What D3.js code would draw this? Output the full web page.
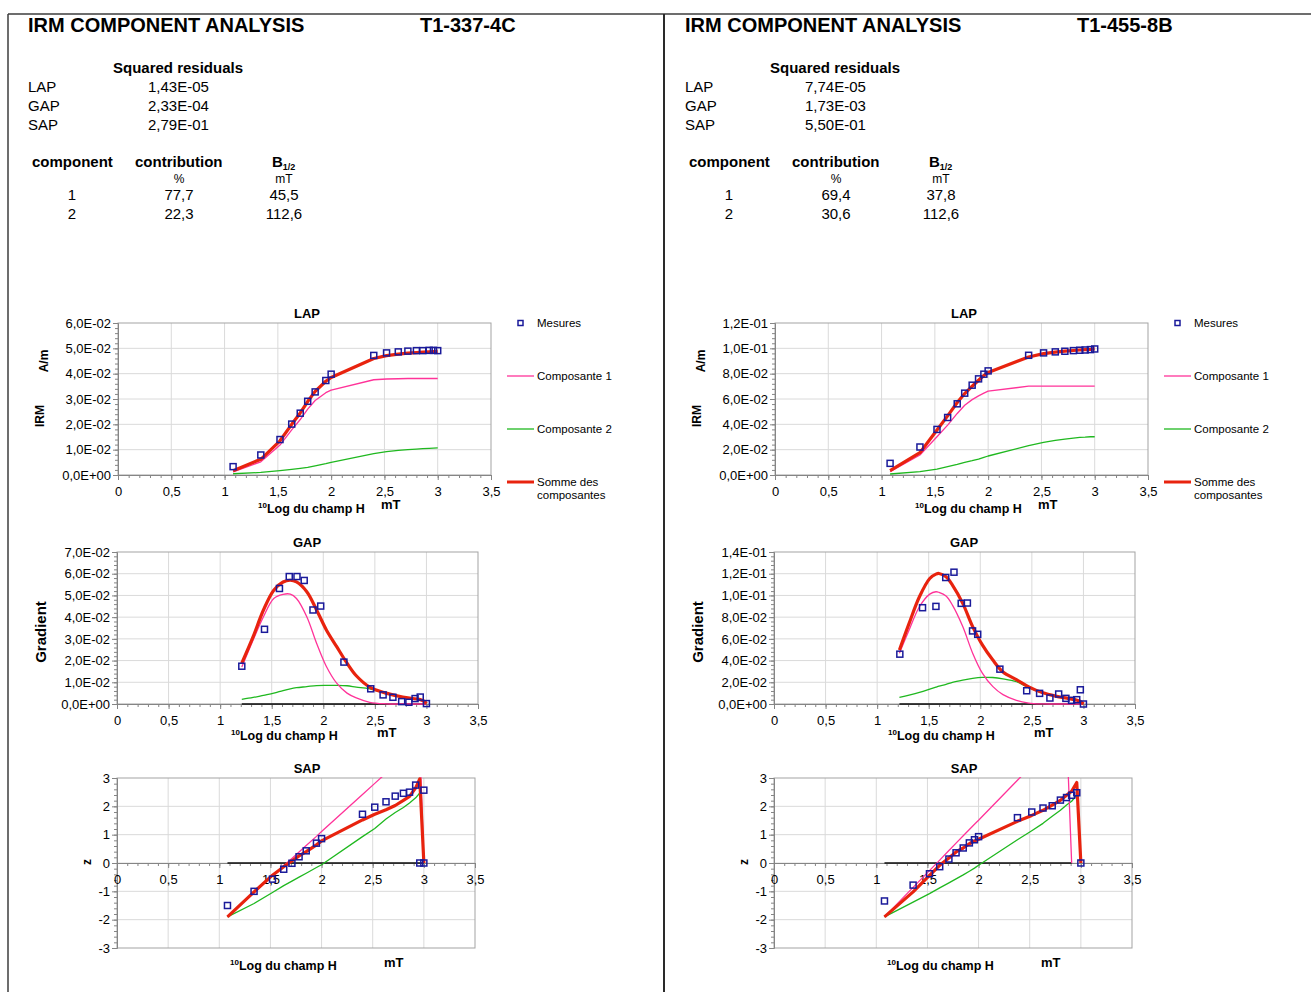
<!DOCTYPE html>
<html><head><meta charset="utf-8">
<script src="https://cdn.jsdelivr.net/npm/d3@7/dist/d3.min.js"></script>
<style>
html,body{margin:0;padding:0;background:#fff;}
svg{display:block;}
</style></head><body>
<svg id="chart" width="1311" height="992"></svg>
<script>
// ================= DATA =================
const sampleIds = ["T1-337-4C", "T1-455-8B"];
const residualLabels = ["LAP", "GAP", "SAP"];
const residualsA = ["1,43E-05", "2,33E-04", "2,79E-01"];
const residualsB = ["7,74E-05", "1,73E-03", "5,50E-01"];
const componentIds = ["1", "2"];
const contribA = ["77,7", "22,3"];
const b12A = ["45,5", "112,6"];
const contribB = ["69,4", "30,6"];
const b12B = ["37,8", "112,6"];

const xTicks = [0, 0.5, 1, 1.5, 2, 2.5, 3, 3.5];
const lapTicksA = [0, 1, 2, 3, 4, 5, 6];          // x 1E-02 A/m
const lapTicksB = [0, 2, 4, 6, 8, 10, 12];        // x 1E-02 A/m
const gapTicksA = [0, 1, 2, 3, 4, 5, 6, 7];       // x 1E-02
const gapTicksB = [0, 2, 4, 6, 8, 10, 12, 14];    // x 1E-02
const sapTicks = [-3, -2, -1, 0, 1, 2, 3];

const legendLabels = ["Mesures", "Composante 1", "Composante 2", "Somme des", "composantes"];

// ---- sample A (T1-337-4C) ----
const logHA = [1.08, 1.34, 1.52, 1.63, 1.71, 1.78, 1.85, 1.95, 2.00, 2.40, 2.52, 2.63, 2.72, 2.80, 2.86, 2.92, 2.96, 3.00];
const lapMesA = [0.33, 0.79, 1.40, 2.01, 2.44, 2.91, 3.28, 3.73, 3.98, 4.72, 4.82, 4.86, 4.89, 4.91, 4.91, 4.92, 4.92, 4.91];
const lapC1A  = [0.12, 0.52, 1.18, 1.78, 2.19, 2.60, 2.94, 3.25, 3.35, 3.76, 3.79, 3.80, 3.81, 3.81, 3.81, 3.81, 3.81, 3.81];
const lapC2A  = [0.05, 0.10, 0.17, 0.22, 0.26, 0.30, 0.36, 0.45, 0.50, 0.84, 0.92, 0.97, 1.00, 1.02, 1.04, 1.05, 1.06, 1.07];
const lapSumA = [0.17, 0.62, 1.35, 2.00, 2.45, 2.90, 3.30, 3.70, 3.85, 4.60, 4.71, 4.77, 4.81, 4.83, 4.85, 4.86, 4.87, 4.88];

const gapXA   = [1.21, 1.43, 1.575, 1.67, 1.745, 1.815, 1.90, 1.975, 2.20, 2.46, 2.58, 2.675, 2.76, 2.83, 2.89, 2.94, 3.00];
const gapMesA = [1.74, 3.44, 5.32, 5.87, 5.87, 5.69, 4.33, 4.51, 1.93, 0.70, 0.42, 0.31, 0.11, 0.08, 0.25, 0.32, 0.02];
const gapCurveXA = [1.21, 1.32, 1.42, 1.52, 1.61, 1.68, 1.74, 1.84, 1.935, 2.03, 2.13, 2.23, 2.32, 2.45, 2.61, 2.77, 2.94, 2.98, 3.00];
const gapSumA = [1.88, 3.10, 4.33, 5.24, 5.62, 5.70, 5.62, 5.17, 4.33, 3.41, 2.64, 1.88, 1.30, 0.78, 0.50, 0.32, 0.20, 0.12, 0.02];
const gapC1A  = [1.70, 2.95, 4.02, 4.86, 5.05, 5.06, 4.86, 4.02, 2.80, 1.73, 0.96, 0.50, 0.28, 0.08, 0.01, 0.00, 0.00, 0.00, 0.00];
const gapC2A  = [0.21, 0.30, 0.40, 0.50, 0.62, 0.70, 0.75, 0.80, 0.85, 0.86, 0.86, 0.84, 0.78, 0.70, 0.48, 0.31, 0.19, 0.11, 0.02];
const gapZeroA = [1.21, 3.00];

const sapXA   = [1.08, 1.34, 1.52, 1.63, 1.71, 1.78, 1.85, 1.95, 2.00, 2.40, 2.52, 2.63, 2.72, 2.80, 2.86, 2.92, 2.96, 3.00, 3.00];
const sapMesA = [-1.50, -1.00, -0.57, -0.22, -0.01, 0.22, 0.43, 0.70, 0.86, 1.72, 1.97, 2.16, 2.36, 2.46, 2.50, 2.75, 0.00, 2.57, 0.00];
const sapSumA = [-1.90, -1.02, -0.43, -0.13, 0.07, 0.25, 0.40, 0.64, 0.78, 1.52, 1.72, 1.88, 2.03, 2.21, 2.35, 2.65, 2.97, 0.00];
const sapC1A  = [-1.90, -1.05, -0.46, -0.10, 0.16, 0.39, 0.62, 0.94, 1.11, 2.42, 2.81, 3.17, 3.46, 3.72, 3.92, 4.12, 4.25, 0.00];
const sapC2A  = [-1.90, -1.43, -1.04, -0.80, -0.64, -0.50, -0.36, -0.16, -0.06, 0.93, 1.22, 1.55, 1.78, 1.96, 2.12, 2.30, 2.47];
const sapZeroA = [1.08, 3.00];

// ---- sample B (T1-455-8B) ----
const logHB = [1.08, 1.36, 1.52, 1.62, 1.71, 1.78, 1.85, 1.91, 1.96, 2.00, 2.38, 2.52, 2.63, 2.72, 2.80, 2.86, 2.91, 2.96, 3.00];
const lapMesB = [0.92, 2.21, 3.60, 4.54, 5.62, 6.46, 7.09, 7.59, 7.96, 8.22, 9.45, 9.64, 9.72, 9.77, 9.82, 9.85, 9.87, 9.90, 9.95];
const lapC1B  = [0.26, 1.58, 3.02, 3.94, 4.86, 5.51, 5.95, 6.25, 6.46, 6.62, 7.01, 7.01, 7.01, 7.01, 7.01, 7.01, 7.01, 7.01, 7.01];
const lapC2B  = [0.08, 0.26, 0.47, 0.66, 0.84, 1.00, 1.13, 1.26, 1.39, 1.50, 2.31, 2.57, 2.73, 2.84, 2.91, 2.97, 2.99, 3.02, 3.02];
const lapSumB = [0.34, 1.76, 3.55, 4.67, 5.72, 6.43, 7.01, 7.48, 7.85, 8.09, 9.32, 9.58, 9.70, 9.78, 9.83, 9.87, 9.90, 9.92, 9.95];

const gapXB   = [1.22, 1.44, 1.57, 1.665, 1.745, 1.815, 1.875, 1.925, 1.975, 2.19, 2.45, 2.575, 2.675, 2.76, 2.83, 2.885, 2.935, 2.97, 3.00];
const gapMesB = [4.59, 8.87, 8.99, 11.65, 12.14, 9.27, 9.30, 6.73, 6.42, 3.21, 1.22, 0.98, 0.55, 0.92, 0.52, 0.34, 0.40, 1.31, 0.00];
const gapCurveXB = [1.216, 1.31, 1.41, 1.51, 1.57, 1.60, 1.668, 1.73, 1.83, 1.926, 2.02, 2.12, 2.22, 2.35, 2.47, 2.60, 2.73, 2.86, 2.94, 2.97, 3.00];
const gapSumB = [4.98, 7.43, 9.88, 11.56, 11.96, 12.02, 11.71, 10.95, 9.27, 7.13, 5.44, 4.07, 2.95, 2.25, 1.58, 1.05, 0.72, 0.50, 0.34, 0.24, 0.00];
const gapC1B  = [4.68, 6.82, 8.96, 10.12, 10.34, 10.28, 9.94, 9.11, 7.13, 4.68, 2.84, 1.62, 0.86, 0.34, 0.09, 0.01, 0.00, 0.00, 0.00, 0.00, 0.00];
const gapC2B  = [0.61, 0.82, 1.07, 1.37, 1.56, 1.65, 1.80, 1.99, 2.20, 2.36, 2.45, 2.44, 2.32, 2.05, 1.50, 1.02, 0.70, 0.48, 0.33, 0.23, 0.00];
const gapZeroB = [1.216, 3.00];

const sapXB   = [1.08, 1.36, 1.52, 1.62, 1.71, 1.78, 1.85, 1.91, 1.96, 2.00, 2.38, 2.52, 2.63, 2.72, 2.80, 2.86, 2.91, 2.96, 3.00];
const sapMesB = [-1.34, -0.78, -0.38, -0.13, 0.14, 0.36, 0.53, 0.71, 0.82, 0.93, 1.60, 1.80, 1.94, 2.02, 2.22, 2.31, 2.39, 2.48, 0.00];
const sapSumB = [-1.90, -1.02, -0.44, -0.08, 0.18, 0.39, 0.53, 0.68, 0.78, 0.84, 1.47, 1.68, 1.86, 2.04, 2.21, 2.39, 2.53, 2.84, 0.00];
const sapC1B  = [-1.90, -0.86, -0.27, 0.10, 0.44, 0.70, 0.96, 1.18, 1.37, 1.51, 2.92, 3.44, 3.85, 4.18, 4.48, 4.70, 0.00];
const sapC2B  = [-1.90, -1.38, -1.08, -0.88, -0.70, -0.56, -0.42, -0.29, -0.18, -0.08, 0.82, 1.14, 1.40, 1.65, 1.86, 2.05, 2.18, 2.40];
const sapZeroB = [1.08, 2.91];

// ================= DRAWING =================
const FONT = '"Liberation Sans", Arial, Helvetica, sans-serif';
const COL = { mes: "#1a1a9a", c1: "#ff3399", c2: "#1fb81f", sum: "#e8230e",
              grid: "#dadada", frame: "#a3a3a3", axis: "#858585", zero: "#111" };
const svg = d3.select("#chart").attr("font-family", FONT);

function sci(v) {
  if (Math.abs(v) < 1e-12) return "0,0E+00";
  const e = Math.floor(Math.log10(Math.abs(v)) + 1e-9);
  const m = v / Math.pow(10, e);
  return m.toFixed(1).replace(".", ",") + "E" + (e < 0 ? "-" : "+") + String(Math.abs(e)).padStart(2, "0");
}
const dec = v => String(v).replace(".", ",");

function txt(g, x, y, s, size, o = {}) {
  const t = g.append("text").attr("x", x).attr("y", y).attr("font-size", size).attr("fill", "#000").text(s);
  if (o.bold) t.attr("font-weight", "bold");
  if (o.anchor) t.attr("text-anchor", o.anchor);
  return t;
}

// page frame
svg.append("line").attr("x1", 8).attr("x2", 1311).attr("y1", 14).attr("y2", 14).attr("stroke", "#3c3c3c").attr("stroke-width", 1.5);
svg.append("line").attr("x1", 8).attr("x2", 8).attr("y1", 14).attr("y2", 992).attr("stroke", "#3c3c3c").attr("stroke-width", 1.5);
svg.append("line").attr("x1", 664).attr("x2", 664).attr("y1", 14).attr("y2", 992).attr("stroke", "#2a2a2a").attr("stroke-width", 2);

function header(dx, id, res, contrib, b12) {
  const g = svg.append("g").attr("transform", `translate(${dx},0)`);
  txt(g, 28, 32, "IRM COMPONENT ANALYSIS", 20, { bold: true });
  txt(g, 420, 32, id, 20, { bold: true });
  txt(g, 113, 73, "Squared residuals", 15, { bold: true });
  residualLabels.forEach((l, i) => {
    txt(g, 28, 92 + i * 19, l, 15);
    txt(g, 148, 92 + i * 19, res[i], 15);
  });
  txt(g, 32, 167, "component", 15, { bold: true });
  txt(g, 135, 167, "contribution", 15, { bold: true });
  const b = txt(g, 272, 167, "B", 15, { bold: true });
  b.append("tspan").attr("font-size", 9).attr("dy", 3).text("1/2");
  txt(g, 179, 183, "%", 12, { anchor: "middle" });
  txt(g, 284, 183, "mT", 12, { anchor: "middle" });
  componentIds.forEach((c, i) => {
    const yy = 200 + i * 19;
    txt(g, 72, yy, c, 15, { anchor: "middle" });
    txt(g, 179, yy, contrib[i], 15, { anchor: "middle" });
    txt(g, 284, yy, b12[i], 15, { anchor: "middle" });
  });
}

let clipN = 0;
function styleAxis(sel, size) {
  sel.attr("font-family", FONT).attr("font-size", size);
  sel.select(".domain").attr("stroke", COL.axis);
  sel.selectAll(".tick line").attr("stroke", COL.axis);
  sel.selectAll(".tick text").attr("fill", "#000");
}

function drawChart(dx, c) {
  const g = svg.append("g").attr("transform", `translate(${dx},0)`);
  const x = d3.scaleLinear().domain([0, 3.5]).range([c.left, c.right]);
  const y0 = c.yTicks[0], y1 = c.yTicks[c.yTicks.length - 1];
  const y = d3.scaleLinear().domain([y0, y1]).range([c.bottom, c.top]);
  const W = c.right - c.left, H = c.bottom - c.top;

  // gridlines
  g.append("g").selectAll("line").data(xTicks.slice(1, -1)).join("line")
    .attr("x1", d => x(d)).attr("x2", d => x(d)).attr("y1", c.top).attr("y2", c.bottom)
    .attr("stroke", COL.grid);
  g.append("g").selectAll("line").data(c.yTicks.slice(1, -1)).join("line")
    .attr("y1", d => y(d)).attr("y2", d => y(d)).attr("x1", c.left).attr("x2", c.right)
    .attr("stroke", COL.grid);
  g.append("rect").attr("x", c.left).attr("y", c.top).attr("width", W).attr("height", H)
    .attr("fill", "none").attr("stroke", COL.frame);

  // y axis
  const yStep = c.yTicks[1] - c.yTicks[0];
  const nMinor = Math.round((y1 - y0) / (yStep / 5));
  const yMinor = d3.range(nMinor + 1).map(i => y0 + i * yStep / 5);
  g.append("g").attr("transform", `translate(${c.left},0)`)
    .call(d3.axisLeft(y).tickValues(yMinor).tickSize(3).tickSizeOuter(0).tickFormat(""))
    .call(s => styleAxis(s, 13));
  g.append("g").attr("transform", `translate(${c.left},0)`)
    .call(d3.axisLeft(y).tickValues(c.yTicks).tickSize(5).tickSizeOuter(0).tickPadding(c.yPad).tickFormat(c.yFmt))
    .call(s => styleAxis(s, 13));

  // x axis
  const ax = c.zeroAxis ? y(0) : c.bottom;
  const xMinor = d3.range(36).map(i => i / 10);
  g.append("g").attr("transform", `translate(0,${ax})`)
    .call(d3.axisBottom(x).tickValues(xMinor).tickSize(3).tickSizeOuter(0).tickFormat(""))
    .call(s => styleAxis(s, 13));
  g.append("g").attr("transform", `translate(0,${ax})`)
    .call(d3.axisBottom(x).tickValues(xTicks).tickSize(5).tickSizeOuter(0).tickPadding(7).tickFormat(dec))
    .call(s => styleAxis(s, 13));

  // title
  txt(g, 307, c.top - 5, c.title, 13, { bold: true, anchor: "middle" });

  // y labels (rotated)
  c.yLabels.forEach(l => {
    g.append("text").attr("transform", `translate(${l.x + l.size * 0.35},${l.y}) rotate(-90)`)
      .attr("text-anchor", "middle").attr("font-size", l.size).attr("font-weight", "bold").text(l.t);
  });

  // x label
  const xl = g.append("text").attr("x", c.xl[0]).attr("y", c.xl[1]).attr("font-weight", "bold").attr("font-size", 12.5);
  xl.append("tspan").attr("font-size", 8).attr("dy", -5).text("10");
  xl.append("tspan").attr("dy", 5).text("Log du champ H");
  txt(g, c.mt[0], c.mt[1], "mT", 13, { bold: true });

  // series
  const cid = "clip" + (clipN++);
  g.append("clipPath").attr("id", cid).append("rect")
    .attr("x", c.left - 2).attr("y", c.top - 1).attr("width", W + 4).attr("height", H + 3);
  const lg = g.append("g").attr("clip-path", `url(#${cid})`);
  if (c.zero) {
    lg.append("line").attr("x1", x(c.zero[0])).attr("x2", x(c.zero[1])).attr("y1", y(0)).attr("y2", y(0))
      .attr("stroke", COL.zero).attr("stroke-width", 1.6);
  }
  c.lines.forEach(s => {
    const line = d3.line().x((d, i) => x(s.x[i])).y(d => y(d)).curve(s.curve || d3.curveLinear);
    lg.append("path").datum(s.y).attr("d", line).attr("fill", "none")
      .attr("stroke", s.color).attr("stroke-width", s.w).attr("stroke-linejoin", "round");
  });
  g.append("g").selectAll("rect").data(c.mes.y).join("rect")
    .attr("x", (d, i) => x(c.mes.x[i]) - 3).attr("y", d => y(d) - 3)
    .attr("width", 6).attr("height", 6)
    .attr("fill", "none").attr("stroke", COL.mes).attr("stroke-width", 1.5);
}

function legend(dx) {
  const g = svg.append("g").attr("transform", `translate(${dx},0)`);
  g.append("rect").attr("x", 518).attr("y", 320.5).attr("width", 5).attr("height", 5)
    .attr("fill", "none").attr("stroke", COL.mes).attr("stroke-width", 1.5);
  txt(g, 537, 327, legendLabels[0], 11.5);
  [[376, COL.c1, 1.3, legendLabels[1]], [429, COL.c2, 1.3, legendLabels[2]], [482, COL.sum, 3, legendLabels[3]]]
    .forEach(([yy, col, w, lab]) => {
      g.append("line").attr("x1", 507).attr("x2", 534).attr("y1", yy).attr("y2", yy)
        .attr("stroke", col).attr("stroke-width", w);
      txt(g, 537, yy + 4, lab, 11.5);
    });
  txt(g, 537, 499, legendLabels[4], 11.5);
}

const lapFmt = t => sci(t * 1e-2);
const sapFmt = t => String(t);
const smooth = d3.curveCatmullRom.alpha(0.5);

const panels = [
  { dx: 0, id: sampleIds[0], res: residualsA, contrib: contribA, b12: b12A,
    lapTicks: lapTicksA, gapTicks: gapTicksA, logH: logHA,
    lap: [lapMesA, lapC1A, lapC2A, lapSumA],
    gap: [gapXA, gapMesA, gapCurveXA, gapC1A, gapC2A, gapSumA, gapZeroA],
    sap: [sapXA, sapMesA, sapC1A, sapC2A, sapSumA, sapZeroA] },
  { dx: 657, id: sampleIds[1], res: residualsB, contrib: contribB, b12: b12B,
    lapTicks: lapTicksB, gapTicks: gapTicksB, logH: logHB,
    lap: [lapMesB, lapC1B, lapC2B, lapSumB],
    gap: [gapXB, gapMesB, gapCurveXB, gapC1B, gapC2B, gapSumB, gapZeroB],
    sap: [sapXB, sapMesB, sapC1B, sapC2B, sapSumB, sapZeroB] }
];

panels.forEach(p => {
  header(p.dx, p.id, p.res, p.contrib, p.b12);
  drawChart(p.dx, {
    left: 118, right: 491, top: 323, bottom: 475, yTicks: p.lapTicks, yFmt: lapFmt, yPad: 2,
    title: "LAP",
    yLabels: [{ t: "A/m", x: 44, y: 361, size: 12 }, { t: "IRM", x: 40, y: 416, size: 12 }],
    xl: [258, 513], mt: [381, 509],
    mes: { x: p.logH, y: p.lap[0] },
    lines: [
      { x: p.logH, y: p.lap[2], color: COL.c2, w: 1.3 },
      { x: p.logH, y: p.lap[1], color: COL.c1, w: 1.3 },
      { x: p.logH, y: p.lap[3], color: COL.sum, w: 3.2 }
    ]
  });
  drawChart(p.dx, {
    left: 117, right: 478, top: 552, bottom: 704, yTicks: p.gapTicks, yFmt: lapFmt, yPad: 2,
    title: "GAP",
    yLabels: [{ t: "Gradient", x: 41, y: 632, size: 15 }],
    xl: [231, 740], mt: [377, 737],
    zero: p.gap[6],
    mes: { x: p.gap[0], y: p.gap[1] },
    lines: [
      { x: p.gap[2], y: p.gap[4], color: COL.c2, w: 1.3, curve: smooth },
      { x: p.gap[2], y: p.gap[3], color: COL.c1, w: 1.3, curve: smooth },
      { x: p.gap[2], y: p.gap[5], color: COL.sum, w: 3.2, curve: smooth }
    ]
  });
  drawChart(p.dx, {
    left: 117, right: 475, top: 778, bottom: 948, yTicks: sapTicks, yFmt: sapFmt, yPad: 2,
    title: "SAP", zeroAxis: true,
    yLabels: [{ t: "z", x: 87, y: 862, size: 12 }],
    xl: [230, 970], mt: [384, 967],
    zero: p.sap[5],
    mes: { x: p.sap[0], y: p.sap[1] },
    lines: [
      { x: p.logH, y: p.sap[3], color: COL.c2, w: 1.3 },
      { x: p.logH, y: p.sap[2], color: COL.c1, w: 1.3 },
      { x: p.logH, y: p.sap[4], color: COL.sum, w: 3.2 }
    ]
  });
  legend(p.dx);
});
</script></body></html>
